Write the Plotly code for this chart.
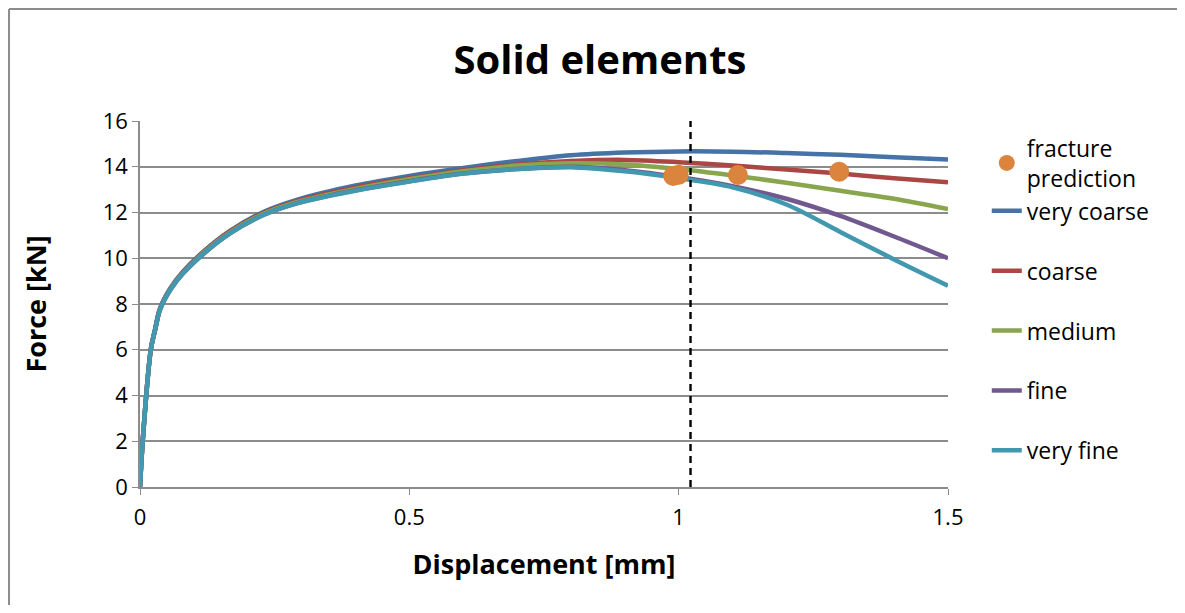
import plotly.graph_objects as go

# Displacement [mm] sample points
disp = [0, 0.005, 0.02, 0.028, 0.037, 0.056, 0.08, 0.118, 0.167, 0.229, 0.291, 0.4, 0.5,
        0.6, 0.7, 0.8, 0.9, 1.0, 1.1, 1.2, 1.3, 1.4, 1.5]

very_coarse = [0, 2.0, 6.0, 6.9, 7.8, 8.68, 9.42, 10.3, 11.2, 12.02, 12.55, 13.18, 13.6,
               13.95, 14.25, 14.5, 14.62, 14.67, 14.66, 14.6, 14.52, 14.42, 14.32]
coarse = [0, 2.0, 6.0, 6.88, 7.78, 8.66, 9.4, 10.27, 11.17, 11.98, 12.5, 13.1, 13.5,
          13.85, 14.1, 14.25, 14.3, 14.2, 14.05, 13.88, 13.7, 13.5, 13.32]
medium = [0, 2.0, 6.0, 6.87, 7.76, 8.64, 9.37, 10.24, 11.13, 11.94, 12.45, 13.03, 13.45,
          13.8, 14.05, 14.15, 14.1, 13.9, 13.62, 13.3, 12.95, 12.6, 12.15]
fine = [0, 2.0, 6.0, 6.86, 7.74, 8.61, 9.34, 10.2, 11.09, 11.89, 12.4, 12.97, 13.37,
        13.7, 13.9, 14.0, 13.85, 13.55, 13.15, 12.6, 11.85, 10.95, 10.0]
very_fine = [0, 2.0, 6.0, 6.86, 7.74, 8.61, 9.34, 10.2, 11.09, 11.89, 12.4, 12.95, 13.35,
             13.7, 13.9, 13.98, 13.8, 13.5, 13.1, 12.35, 11.15, 9.95, 8.8]

fracture_x = [0.99, 1.0, 1.11, 1.298]
fracture_y = [13.6, 13.65, 13.64, 13.78]

dashed_x = 1.022

series = [
    ("very coarse", very_coarse, "#4572A7", "g1"),
    ("coarse", coarse, "#AA4643", "g2"),
    ("medium", medium, "#89A54E", "g3"),
    ("fine", fine, "#71588F", "g4"),
    ("very fine", very_fine, "#4198AF", "g5"),
]

FONT = "'Open Sans', sans-serif"
GRID = "#8c8c8c"

fig = go.Figure()
for i, (name, ys, col, grp) in enumerate(series):
    fig.add_trace(go.Scatter(
        x=disp, y=ys, mode="lines", name=name, legendgroup=grp, legendrank=2 + i,
        line=dict(color=col, width=4.5, shape="spline", smoothing=0.9)))
fig.add_trace(go.Scatter(
    x=fracture_x, y=fracture_y, mode="markers", name="fracture<br>prediction",
    legendgroup="g1", legendrank=1,
    marker=dict(color="#DB843D", size=20)))

fig.add_shape(type="line", xref="x", yref="paper", x0=dashed_x, x1=dashed_x, y0=0, y1=1,
              line=dict(color="black", width=2.4, dash="7px,5px"))
# chart border (top and left edges visible in the frame)
fig.add_shape(type="line", xref="paper", yref="paper", x0=-0.1621, x1=1.2834, y0=1.306, y1=1.306,
              line=dict(color=GRID, width=2), layer="below")
fig.add_shape(type="line", xref="paper", yref="paper", x0=-0.1621, x1=-0.1621, y0=-0.3224, y1=1.306,
              line=dict(color=GRID, width=2), layer="below")

fig.update_layout(
    width=1169, height=597,
    margin=dict(l=132, r=229, t=113, b=118),
    paper_bgcolor="white", plot_bgcolor="white",
    font=dict(family=FONT, color="black", size=22),
    title=dict(text="<b>Solid elements</b>", x=0.5064, xanchor="center", y=0.913, yanchor="middle",
               font=dict(size=40, family=FONT, color="black")),
    legend=dict(x=1.048, y=0.985, xanchor="left", yanchor="top", traceorder="grouped",
                font=dict(size=23, family=FONT), tracegroupgap=27, bgcolor="rgba(0,0,0,0)"),
    showlegend=True,
)
fig.update_xaxes(range=[0, 1.5], tickvals=[0, 0.5, 1, 1.5], ticktext=["0", "0.5", "1", "1.5"],
                 showgrid=False, showline=True, linecolor=GRID, linewidth=1.5,
                 ticks="outside", ticklen=6, tickcolor=GRID, zeroline=False,
                 ticklabelstandoff=4,
                 title=dict(text="<b>Displacement [mm]</b>", font=dict(size=27), standoff=25),
                 tickfont=dict(size=22))
fig.update_yaxes(range=[0, 16], dtick=2, showgrid=True, gridcolor=GRID, gridwidth=1.5,
                 showline=True, linecolor=GRID, linewidth=1.5,
                 ticks="outside", ticklen=6, tickcolor=GRID, zeroline=False,
                 title=dict(text="<b>Force [kN]</b>", font=dict(size=27), standoff=48),
                 tickfont=dict(size=22))

fig.write_html("out.html")
